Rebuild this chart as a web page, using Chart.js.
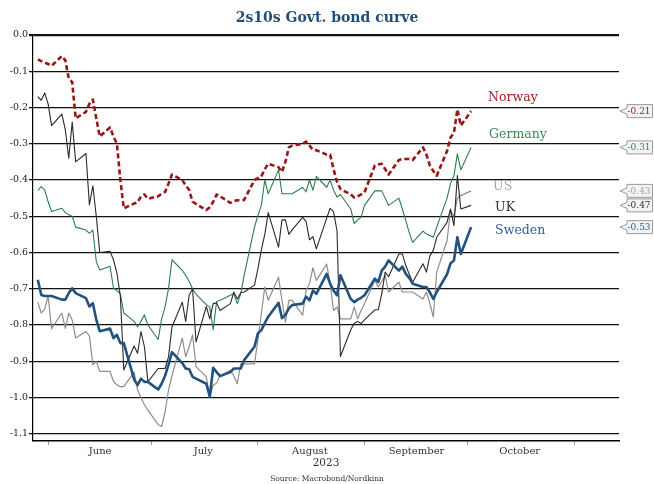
<!DOCTYPE html>
<html>
<head>
<meta charset="utf-8">
<title>2s10s Govt. bond curve</title>
<script src="https://cdn.jsdelivr.net/npm/chart.js@4.4.0/dist/chart.umd.min.js"></script>
<style>
  html, body { margin: 0; padding: 0; background: #fff; }
  #wrap { width: 654px; height: 484px; }
</style>
</head>
<body>
<div id="wrap"><canvas id="myChart" width="654" height="484"></canvas></div>
<script>
// business days, 29 May - 2 Oct 2023
const dates = [
  "2023-05-29", "2023-05-30", "2023-05-31",
  "2023-06-01", "2023-06-02", "2023-06-05", "2023-06-06", "2023-06-07", "2023-06-08", "2023-06-09",
  "2023-06-12", "2023-06-13", "2023-06-14", "2023-06-15", "2023-06-16", "2023-06-19", "2023-06-20",
  "2023-06-21", "2023-06-22", "2023-06-23", "2023-06-26", "2023-06-27", "2023-06-28", "2023-06-29", "2023-06-30",
  "2023-07-03", "2023-07-04", "2023-07-05", "2023-07-06", "2023-07-07", "2023-07-10", "2023-07-11",
  "2023-07-12", "2023-07-13", "2023-07-14", "2023-07-17", "2023-07-18", "2023-07-19", "2023-07-20",
  "2023-07-21", "2023-07-24", "2023-07-25", "2023-07-26", "2023-07-27", "2023-07-28", "2023-07-31",
  "2023-08-01", "2023-08-02", "2023-08-03", "2023-08-04", "2023-08-07", "2023-08-08", "2023-08-09",
  "2023-08-10", "2023-08-11", "2023-08-14", "2023-08-15", "2023-08-16", "2023-08-17", "2023-08-18",
  "2023-08-21", "2023-08-22", "2023-08-23", "2023-08-24", "2023-08-25", "2023-08-28", "2023-08-29",
  "2023-08-30", "2023-08-31",
  "2023-09-01", "2023-09-04", "2023-09-05", "2023-09-06", "2023-09-07", "2023-09-08", "2023-09-11",
  "2023-09-12", "2023-09-13", "2023-09-14", "2023-09-15", "2023-09-18", "2023-09-19", "2023-09-20",
  "2023-09-21", "2023-09-22", "2023-09-25", "2023-09-26", "2023-09-27", "2023-09-28", "2023-09-29",
  "2023-10-02"
];

const norway = [
  -0.067, -0.072, -0.076,
  -0.080, -0.085, -0.058, -0.070, -0.120, -0.130, -0.230, -0.212, -0.190, -0.178, -0.230, -0.280,
  -0.255, -0.280, -0.300, -0.400, -0.478, -0.465, -0.462, -0.445, -0.440, -0.452,
  -0.445, -0.438, -0.433, -0.410, -0.385, -0.400, -0.415, -0.427, -0.460, -0.466, -0.483, -0.475,
  -0.460, -0.440, -0.445, -0.463, -0.458, -0.456, -0.456, -0.455, -0.400,
  -0.395, -0.390, -0.370, -0.355, -0.365, -0.378, -0.350, -0.310, -0.305, -0.300, -0.294, -0.305,
  -0.317, -0.318, -0.330, -0.330, -0.370, -0.405, -0.425, -0.440, -0.448, -0.445, -0.440,
  -0.434, -0.360, -0.357, -0.355, -0.370, -0.385, -0.345, -0.342, -0.342, -0.342, -0.345, -0.310,
  -0.330, -0.360, -0.375, -0.388, -0.320, -0.283, -0.270, -0.205, -0.250,
  -0.210
];

const germany = [
  -0.429, -0.418, -0.427,
  -0.460, -0.487, -0.478, -0.490, -0.496, -0.500, -0.530, -0.538, -0.547, -0.538, -0.625, -0.648,
  -0.638, -0.698, -0.705, -0.714, -0.767, -0.790, -0.805, -0.790, -0.772, -0.800,
  -0.840, -0.783, -0.750, -0.700, -0.620, -0.649, -0.663, -0.680, -0.700, -0.715, -0.744, -0.750,
  -0.813, -0.735, -0.732, -0.718, -0.714, -0.741, -0.714, -0.663, -0.530,
  -0.498, -0.470, -0.400, -0.438, -0.372, -0.438, -0.438, -0.438, -0.438, -0.420, -0.433, -0.400,
  -0.428, -0.390, -0.420, -0.400, -0.428, -0.447, -0.440, -0.480, -0.520, -0.510, -0.503,
  -0.470, -0.430, -0.430, -0.430, -0.450, -0.470, -0.450, -0.480, -0.512, -0.545, -0.572, -0.541,
  -0.549, -0.553, -0.558, -0.530, -0.450, -0.410, -0.388, -0.328, -0.372,
  -0.310
];

const us = [
  -0.737, -0.767, -0.756,
  -0.720, -0.810, -0.767, -0.809, -0.767, -0.786, -0.836, -0.818, -0.830, -0.910, -0.900, -0.928,
  -0.928, -0.956, -0.965, -0.970, -0.970, -0.930, -0.979, -1.000, -1.020, -1.035,
  -1.075, -1.080, -1.040, -0.980, -0.940, -0.836, -0.887, -0.860, -0.827, -0.915, -0.943, -0.998,
  -0.966, -0.960, -0.940, -0.925, -0.940, -0.962, -0.907, -0.907, -0.907,
  -0.842, -0.769, -0.695, -0.732, -0.668, -0.732, -0.792, -0.732, -0.732, -0.773, -0.705, -0.686,
  -0.642, -0.677, -0.632, -0.686, -0.760, -0.750, -0.783, -0.783, -0.750, -0.783, -0.760,
  -0.741, -0.677, -0.695, -0.680, -0.663, -0.709, -0.682, -0.709, -0.709, -0.709, -0.709, -0.728,
  -0.709, -0.740, -0.778, -0.654, -0.567, -0.484, -0.500, -0.450, -0.443,
  -0.430
];

const uk = [
  -0.170, -0.180, -0.160,
  -0.190, -0.250, -0.218, -0.262, -0.340, -0.240, -0.350, -0.327, -0.469, -0.416, -0.500, -0.600,
  -0.597, -0.620, -0.657, -0.720, -0.924, -0.858, -0.878, -0.818, -0.860, -0.957,
  -0.920, -0.920, -0.920, -0.888, -0.806, -0.737, -0.790, -0.718, -0.700, -0.847, -0.749, -0.783,
  -0.741, -0.739, -0.760, -0.741, -0.709, -0.728, -0.711, -0.709, -0.690,
  -0.645, -0.593, -0.550, -0.490, -0.585, -0.510, -0.510, -0.550, -0.537, -0.503, -0.514, -0.565,
  -0.556, -0.590, -0.505, -0.478, -0.487, -0.540, -0.887, -0.813, -0.795, -0.790, -0.796,
  -0.786, -0.758, -0.758, -0.714, -0.654, -0.667, -0.604, -0.604, -0.636, -0.660, -0.682, -0.631,
  -0.654, -0.610, -0.594, -0.558, -0.517, -0.480, -0.526, -0.388, -0.480,
  -0.470
];

const sweden = [
  -0.675, -0.717, -0.720,
  -0.720, -0.720, -0.730, -0.730, -0.712, -0.699, -0.712, -0.726, -0.749, -0.740, -0.785, -0.817,
  -0.810, -0.836, -0.827, -0.850, -0.850, -0.950, -0.966, -0.948, -0.957, -0.957,
  -0.978, -0.962, -0.940, -0.910, -0.875, -0.905, -0.920, -0.922, -0.943, -0.948, -0.962, -0.998,
  -0.918, -0.930, -0.941, -0.930, -0.920, -0.920, -0.920, -0.897, -0.860,
  -0.823, -0.814, -0.795, -0.777, -0.739, -0.781, -0.772, -0.754, -0.745, -0.741, -0.722, -0.732,
  -0.705, -0.714, -0.659, -0.686, -0.705, -0.718, -0.663, -0.728, -0.737, -0.730, -0.725,
  -0.718, -0.672, -0.682, -0.650, -0.639, -0.622, -0.650, -0.639, -0.659, -0.670, -0.686, -0.695,
  -0.695, -0.710, -0.728, -0.709, -0.660, -0.630, -0.622, -0.558, -0.604,
  -0.530
];

const monthTicks = ["2023-06-01", "2023-07-01", "2023-08-01", "2023-09-01", "2023-10-01", "2023-11-01"];
const monthLabels = ["June", "July", "August", "September", "October", ""];

const FONT = '"DejaVu Serif", "Liberation Serif", serif';

// x axis is in days counted from 1 June 2023
function dayNum(s) {
  return (Date.parse(s) - Date.parse("2023-06-01")) / 86400000;
}

function toPoints(values) {
  return values.map((v, i) => ({ x: dayNum(dates[i]), y: v }));
}

// where the series names sit, relative to the last point
const labelPos = {
  Norway: { dx: 17, dy: -13 },
  Germany: { dx: 18, dy: -13 },
  US: { dx: 22, dy: -4 },
  UK: { dx: 24, dy: 2 },
  Sweden: { dx: 24, dy: 4 }
};

const endLabels = {
  id: "endLabels",
  afterDraw(chart) {
    const ctx = chart.ctx;
    const area = chart.chartArea;
    ctx.save();
    chart.data.datasets.forEach((ds, i) => {
      const meta = chart.getDatasetMeta(i);
      const last = meta.data[meta.data.length - 1];
      const value = ds.data[ds.data.length - 1].y;
      const pos = labelPos[ds.label];

      ctx.font = "12.5px " + FONT;
      ctx.fillStyle = ds.nameColor;
      ctx.textAlign = "left";
      ctx.textBaseline = "middle";
      ctx.fillText(ds.label, last.x + pos.dx, last.y + pos.dy);

      // value tag on the right
      const tx = area.right + 1;
      const ty = last.y;
      ctx.beginPath();
      ctx.moveTo(tx + 7, ty - 6.5);
      ctx.lineTo(tx + 7, ty - 3);
      ctx.lineTo(tx, ty);
      ctx.lineTo(tx + 7, ty + 3);
      ctx.lineTo(tx + 7, ty + 6.5);
      ctx.lineTo(chart.width - 1.5, ty + 6.5);
      ctx.lineTo(chart.width - 1.5, ty - 6.5);
      ctx.closePath();
      ctx.fillStyle = "#f3f3f3";
      ctx.fill();
      ctx.strokeStyle = "#9a9a9a";
      ctx.lineWidth = 1;
      ctx.stroke();

      ctx.font = "9px " + FONT;
      ctx.fillStyle = ds.nameColor;
      ctx.fillText(value.toFixed(2), tx + 7.5, ty + 0.5);
    });
    ctx.restore();
  }
};

const ctx = document.getElementById("myChart").getContext("2d");
const chart = new Chart(ctx, {
  type: "line",
  data: {
    datasets: [
      {
        label: "Norway",
        data: toPoints(norway),
        borderColor: "#9c1515",
        nameColor: "#a32020",
        borderWidth: 2.6,
        borderDash: [5, 3]
      },
      {
        label: "Sweden",
        data: toPoints(sweden),
        borderColor: "#24527f",
        nameColor: "#2f5f94",
        borderWidth: 2.6
      },
      {
        label: "UK",
        data: toPoints(uk),
        borderColor: "#2b2b2b",
        nameColor: "#333333",
        borderWidth: 1.1
      },
      {
        label: "Germany",
        data: toPoints(germany),
        borderColor: "#2e7d4e",
        nameColor: "#3a8a5a",
        borderWidth: 1.1
      },
      {
        label: "US",
        data: toPoints(us),
        borderColor: "#8e8e8e",
        nameColor: "#a6a6a6",
        borderWidth: 1.2
      }
    ]
  },
  options: {
    responsive: false,
    animation: false,
    elements: {
      point: { radius: 0 },
      line: { tension: 0, borderJoinStyle: "round" }
    },
    layout: { padding: 0 },
    scales: {
      x: {
        type: "linear",
        min: -4.4,
        max: 166,
        afterBuildTicks: scale => {
          scale.ticks = monthTicks.map(s => ({ value: dayNum(s) }));
        },
        ticks: {
          autoSkip: false,
          maxRotation: 0,
          padding: 0,
          labelOffset: 52,
          color: "#333",
          font: { family: FONT, size: 10 },
          callback: (value, index) => monthLabels[index]
        },
        grid: { drawOnChartArea: false, tickLength: 4, tickColor: "#999" },
        border: { color: "#000", width: 1.5 },
        title: {
          display: true,
          text: "2023",
          color: "#333",
          padding: { top: 0, bottom: 0 },
          font: { family: FONT, size: 10.5 }
        }
      },
      y: {
        min: -1.12,
        max: 0,
        afterFit: scale => { scale.width = 33; },
        ticks: {
          stepSize: 0.1,
          includeBounds: false,
          padding: 1,
          color: "#222",
          font: { family: FONT, size: 9.5 },
          callback: value => value.toFixed(1)
        },
        grid: {
          color: "#111",
          lineWidth: c => (c.tick && c.tick.value === 0 ? 2.2 : 1.3),
          tickLength: 4
        },
        border: { color: "#000", width: 1.2 }
      },
      // empty strip on the right that holds the value tags
      tags: {
        type: "linear",
        position: "right",
        min: -1.12,
        max: 0,
        afterFit: scale => { scale.width = 35; },
        grid: { display: false },
        ticks: { display: false },
        border: { display: false }
      }
    },
    plugins: {
      legend: { display: false },
      tooltip: { enabled: false },
      title: {
        display: true,
        text: "2s10s Govt. bond curve",
        color: "#1f4e79",
        padding: { top: 10, bottom: 8.2 },
        font: { family: FONT, size: 14, weight: "bold" }
      },
      subtitle: {
        display: true,
        position: "bottom",
        text: "Source: Macrobond/Nordkinn",
        color: "#333",
        padding: { top: 4.9, bottom: 0.5 },
        font: { family: FONT, size: 7.5 }
      }
    }
  },
  plugins: [endLabels]
});
</script>
</body>
</html>
